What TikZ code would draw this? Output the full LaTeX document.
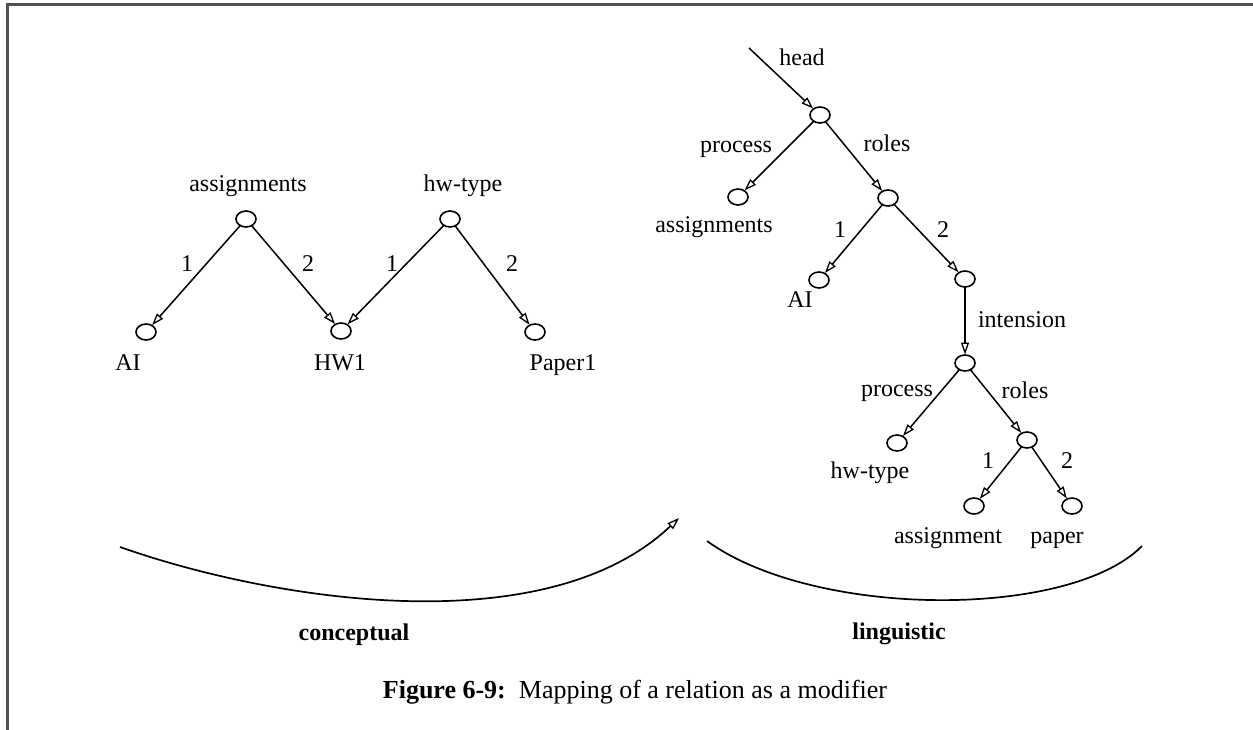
\documentclass[tikz,border=0pt]{standalone}
\usepackage{fontspec}
\setmainfont{Liberation Serif}
\usetikzlibrary{arrows.meta,shapes.geometric}
\definecolor{framegray}{RGB}{80,80,80}
\tikzset{
  bubble/.style={ellipse,draw,line width=1.6pt,minimum width=20pt,minimum height=16pt,inner sep=0pt,outer sep=0pt},
  lbl/.style={anchor=base,inner sep=0pt,font=\fontsize{24}{28}\selectfont},
  blbl/.style={anchor=base,inner sep=0pt,font=\fontsize{24}{28}\selectfont\bfseries},
  opentip/.style={-{Triangle[open,length=12pt,width=8pt,line width=1.3pt]}},
  link/.style={line width=1.5pt,opentip,shorten >=0.5pt},
  bow/.style={line width=1.7pt}
}
\begin{document}
\begin{tikzpicture}[x=1pt,y=-1pt]
\useasboundingbox (0,0) rectangle (1253,730);
% frame (top and left edges)
\draw[framegray,line width=3pt] (7,730) -- (7,5) -- (1253,5);

% ---- conceptual side ----
\node[bubble] (ca) at (246,219) {};
\node[bubble] (ch) at (450,219) {};
\node[bubble] (cai) at (146,332) {};
\node[bubble] (chw) at (341,331) {};
\node[bubble] (cp) at (535,332) {};
\node[lbl] (tca) at (248,192) {assignments};
\node[lbl] (tch) at (463,192) {hw-type};
\node[lbl] (tcai) at (128,370) {AI};
\node[lbl] (tchw) at (340,370) {HW1};
\node[lbl] (tcp) at (563,370) {Paper1};
\draw[link] (ca) -- (cai);
\draw[link] (ca) -- (chw);
\draw[link] (ch) -- (chw);
\draw[link] (ch) -- (cp);
\node[lbl] (e1) at (187,271) {1};
\node[lbl] (e2) at (308,271) {2};
\node[lbl] (e3) at (392,271) {1};
\node[lbl] (e4) at (512,271) {2};

% ---- linguistic side ----
\coordinate (hs) at (749,48);
\node[bubble] (lt) at (820,115) {};
\node[bubble] (la) at (738,197) {};
\node[bubble] (lr) at (888,198) {};
\node[bubble] (lai) at (819,280) {};
\node[bubble] (li) at (965,279) {};
\node[bubble] (lp) at (965,363) {};
\node[bubble] (lhw) at (897,443) {};
\node[bubble] (lr2) at (1027,440) {};
\node[bubble] (las) at (974,506) {};
\node[bubble] (lpa) at (1072,506) {};
\draw[link] (hs) -- (lt);
\draw[link] (lt) -- (la);
\draw[link] (lt) -- (lr);
\draw[link] (lr) -- (lai);
\draw[link] (lr) -- (li);
\draw[link] (li) -- (lp);
\draw[link] (lp) -- (lhw);
\draw[link] (lp) -- (lr2);
\draw[link] (lr2) -- (las);
\draw[link] (lr2) -- (lpa);
\node[lbl] (thead) at (802,66) {head};
\node[lbl] (tpr1) at (736,153) {process};
\node[lbl] (tro1) at (887,152) {roles};
\node[lbl] (tla) at (714,233) {assignments};
\node[lbl] (tn1) at (840,237) {1};
\node[lbl] (tn2) at (943,237) {2};
\node[lbl] (tlai) at (800,307) {AI};
\node[lbl] (tint) at (1022,327) {intension};
\node[lbl] (tpr2) at (897,396) {process};
\node[lbl] (tro2) at (1025,398) {roles};
\node[lbl] (thw) at (870,478) {hw-type};
\node[lbl] (tn3) at (988,468) {1};
\node[lbl] (tn4) at (1067,468) {2};
\node[lbl] (tas) at (948,543) {assignment};
\node[lbl] (tpa) at (1057,543) {paper};

% ---- sweeping curves under each side ----
\coordinate (bl1) at (120,547);
\coordinate (bl2) at (679,518);
\draw[bow,opentip] (bl1) .. controls (270,600) and (545,645) .. (bl2);
\coordinate (br1) at (707,541);
\coordinate (br2) at (1142,546);
\draw[bow] (br1) .. controls (815,619) and (1070,619) .. (br2);
\node[blbl] (tcon) at (354,640) {conceptual};
\node[blbl] (tlin) at (899,639) {linguistic};

% caption
\node[anchor=base,inner sep=0pt,font=\fontsize{26}{30}\selectfont] (cap) at (635,698) {\textbf{Figure 6-9:}\ \ Mapping of a relation as a modifier};
\end{tikzpicture}
\end{document}
